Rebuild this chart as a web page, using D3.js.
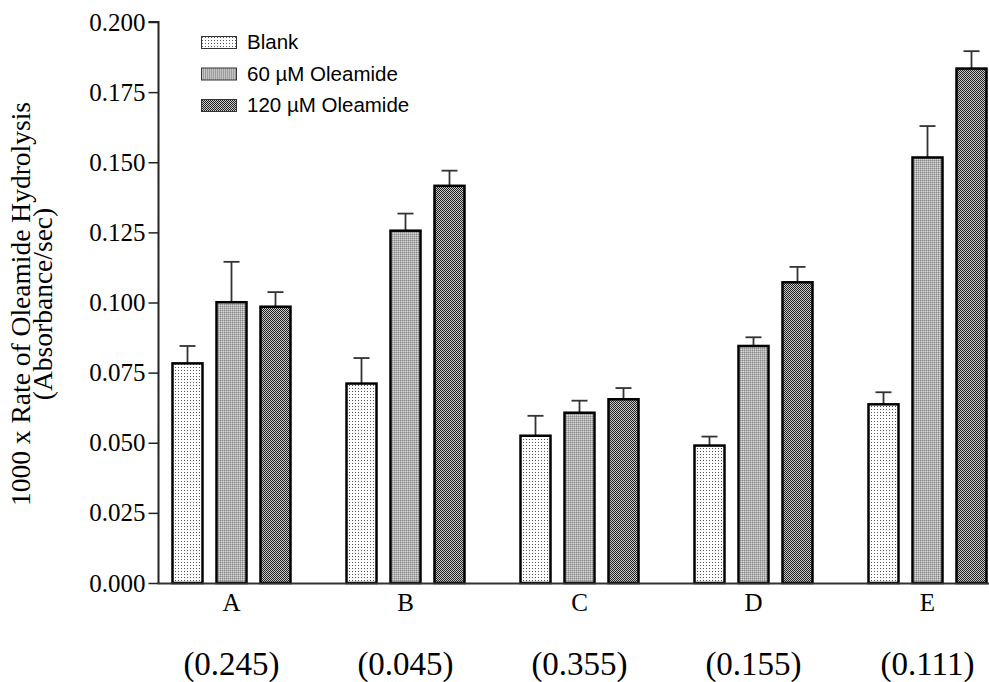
<!DOCTYPE html>
<html><head><meta charset="utf-8">
<script src="https://cdn.jsdelivr.net/npm/d3@7"></script>
<style>body{margin:0;background:#fff}svg{display:block}</style>
</head><body>
<svg id="chart" width="989" height="682"></svg>
<script>
const categories = ["A","B","C","D","E"];
const pValues = ["(0.245)","(0.045)","(0.355)","(0.155)","(0.111)"];
const seriesNames = ["Blank","60 µM Oleamide","120 µM Oleamide"];
const blankVals = [0.0783, 0.0711, 0.0525, 0.0490, 0.0637];
const blankErr  = [0.0062, 0.0091, 0.0071, 0.0032, 0.0043];
const ole60Vals = [0.1001, 0.1256, 0.0607, 0.0845, 0.1517];
const ole60Err  = [0.0144, 0.0061, 0.0043, 0.0031, 0.0112];
const ole120Vals = [0.0985, 0.1416, 0.0655, 0.1072, 0.1834];
const ole120Err  = [0.0052, 0.0054, 0.0040, 0.0055, 0.0062];
const yTicks = [0, 0.025, 0.05, 0.075, 0.1, 0.125, 0.15, 0.175, 0.2];

const seriesVals = [blankVals, ole60Vals, ole120Vals];
const seriesErr = [blankErr, ole60Err, ole120Err];
const patIds = ["patBlank","pat60","pat120"];
const SERIF = "'Liberation Serif', 'Times New Roman', serif";

const svg = d3.select("#chart");
const defs = svg.append("defs");
let p = defs.append("pattern").attr("id","patBlank").attr("patternUnits","userSpaceOnUse").attr("width",3).attr("height",3);
p.append("rect").attr("width",3).attr("height",3).attr("fill","#fff");
p.append("rect").attr("x",1).attr("y",1).attr("width",1).attr("height",1).attr("fill","#555");
p = defs.append("pattern").attr("id","pat60").attr("patternUnits","userSpaceOnUse").attr("width",2).attr("height",2);
p.append("rect").attr("width",2).attr("height",2).attr("fill","#d8d8d8");
p.append("rect").attr("x",0).attr("y",0).attr("width",1).attr("height",1).attr("fill","#8a8a8a");
p.append("rect").attr("x",1).attr("y",0).attr("width",1).attr("height",1).attr("fill","#b0b0b0");
p.append("rect").attr("x",0).attr("y",1).attr("width",1).attr("height",1).attr("fill","#b0b0b0");
p = defs.append("pattern").attr("id","pat120").attr("patternUnits","userSpaceOnUse").attr("width",2).attr("height",2);
p.append("rect").attr("width",2).attr("height",2).attr("fill","#c8c8c8");
p.append("rect").attr("x",0).attr("y",0).attr("width",1).attr("height",1).attr("fill","#222");
p.append("rect").attr("x",1).attr("y",1).attr("width",1).attr("height",1).attr("fill","#222");

const y = d3.scaleLinear().domain([0, 0.2]).range([583, 22]);
const x = d3.scaleBand().domain(categories).range([144.5, 1014.5]).padding(0);
const xs = d3.scaleBand().domain(seriesNames).range([28, 146]).paddingInner(14/44).paddingOuter(0);

seriesNames.forEach((s, si) => {
  const g = svg.append("g");
  categories.forEach((c, ci) => {
    const v = seriesVals[si][ci], e = seriesErr[si][ci];
    const bx = x(c) + xs(s), bw = xs.bandwidth();
    const cx = bx + bw/2;
    g.append("line").attr("x1",cx).attr("x2",cx).attr("y1",y(v)).attr("y2",y(v+e))
      .attr("stroke","#333").attr("stroke-width",1.8);
    g.append("line").attr("x1",cx-8).attr("x2",cx+8).attr("y1",y(v+e)).attr("y2",y(v+e))
      .attr("stroke","#333").attr("stroke-width",1.8);
    g.append("rect").attr("x",bx).attr("y",y(v)).attr("width",bw).attr("height",y(0)-y(v))
      .attr("fill","url(#"+patIds[si]+")").attr("stroke","#000").attr("stroke-width",2.5);
  });
});

const yAxis = d3.axisLeft(y).tickValues(yTicks).tickFormat(d3.format(".3f")).tickSize(10).tickPadding(3);
const ya = svg.append("g").attr("transform","translate(158.5,0)").call(yAxis)
  .attr("font-family", SERIF).attr("font-size", 25);
ya.select(".domain").attr("stroke","#222").attr("stroke-width",2).attr("d","M-10,22H0V584");
ya.selectAll(".tick line").attr("stroke","#222").attr("stroke-width",1.5);
ya.selectAll(".tick text").style("font-family", SERIF).style("font-size","25px").attr("fill","#000");

svg.append("line").attr("x1",157.5).attr("x2",989).attr("y1",583.5).attr("y2",583.5).attr("stroke","#333").attr("stroke-width",2);
const xa = svg.append("g").attr("transform","translate(0,583)")
  .call(d3.axisBottom(x).tickSize(0).tickPadding(10));
xa.select(".domain").remove();
xa.selectAll(".tick text").style("font-family", SERIF).style("font-size","25px").attr("fill","#000").attr("dy","0.71em");

svg.append("g").selectAll("text").data(categories).join("text")
  .attr("x", c => x(c) + x.bandwidth()/2).attr("y", 675)
  .attr("text-anchor","middle")
  .style("font-family", SERIF).style("font-size","33px")
  .text((c,i) => pValues[i]);

const yt = svg.append("text").attr("transform","translate(0,304) rotate(-90)")
  .attr("text-anchor","middle").style("font-family", SERIF).style("font-size","27.5px");
yt.append("tspan").attr("x",0).attr("y",30).text("1000 x Rate of Oleamide Hydrolysis");
yt.append("tspan").attr("x",0).attr("y",52).text("(Absorbance/sec)");

const lg = svg.append("g").attr("transform","translate(201,36)");
seriesNames.forEach((s, i) => {
  const row = lg.append("g").attr("transform",`translate(0,${i*31.5})`);
  row.append("rect").attr("x",0.5).attr("y",0.5).attr("width",35).attr("height",12)
    .attr("fill","url(#"+patIds[i]+")").attr("stroke","#333").attr("stroke-width",1);
  row.append("text").attr("x",46).attr("y",13).style("font-family","'Liberation Sans', Arial, sans-serif")
    .style("font-size","20.5px").attr("fill","#000").text(s);
});
</script>
</body></html>
